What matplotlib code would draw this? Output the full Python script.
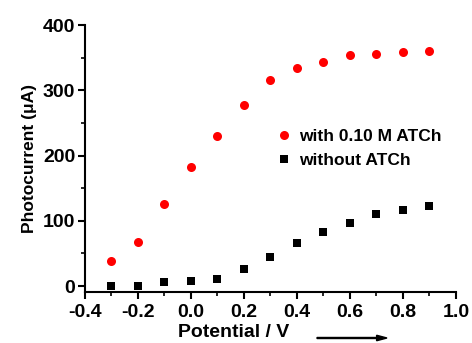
import numpy as np
import matplotlib.pyplot as plt
from matplotlib.ticker import MultipleLocator
from matplotlib.patches import FancyArrow

plt.rcParams['font.family'] = ['Liberation Sans', 'DejaVu Sans']
plt.rcParams['font.weight'] = 'bold'

# potential (V)
potential = [-0.3, -0.2, -0.1, 0.0, 0.1, 0.2, 0.3, 0.4, 0.5, 0.6, 0.7, 0.8, 0.9]
# photocurrent (uA)
with_atch = [39, 67, 125, 183, 230, 277, 315, 334, 343, 354, 356, 359, 360]
without_atch = [0, 0, 6, 8, 11, 26, 45, 66, 83, 97, 111, 117, 123]

fig = plt.figure(figsize=(4.72, 3.43), dpi=100)
ax = fig.add_axes([0.18, 0.149, 0.786, 0.778])

ax.plot(potential, with_atch, 'o', color='#ff0000', markersize=6.5, markeredgewidth=0,
        label='with 0.10 M ATCh')
ax.plot(potential, without_atch, 's', color='black', markersize=6, markeredgewidth=0,
        label='without ATCh')

ax.set_xlim(-0.4, 1.0)
ax.set_ylim(-9, 400)
ax.xaxis.set_major_locator(MultipleLocator(0.2))
ax.xaxis.set_minor_locator(MultipleLocator(0.1))
ax.yaxis.set_major_locator(MultipleLocator(100))
ax.yaxis.set_minor_locator(MultipleLocator(50))
ax.xaxis.set_major_formatter(plt.FuncFormatter(lambda v, p: f"{v:.1f}"))

for s in ['top', 'right']:
    ax.spines[s].set_visible(False)
for s in ['left', 'bottom']:
    ax.spines[s].set_linewidth(1.5)
ax.tick_params(which='major', direction='out', length=5, width=1.5, labelsize=14)
ax.tick_params(axis='x', which='major', pad=4)
ax.tick_params(axis='y', which='major', pad=2)
ax.tick_params(which='minor', direction='out', length=3, width=1.2)
for lab in ax.get_xticklabels() + ax.get_yticklabels():
    lab.set_fontweight('bold')

ax.set_ylabel('Photocurrent (\u03bcA)', fontsize=12.5, fontweight='bold', labelpad=4)
ax.set_xlabel('Potential / V', fontsize=14, fontweight='bold')
ax.xaxis.set_label_coords(0.40, -0.122)
ax.xaxis.label.set_va('top')

# arrow after the x label
fig.patches.append(FancyArrow(
    317 / 472, 1 - 338 / 343, 70 / 472, 0, width=0.003, head_width=0.016,
    head_length=0.022, length_includes_head=True, color='black',
    transform=fig.transFigure, figure=fig))

ax.legend(loc='upper left', bbox_to_anchor=(0.47, 0.668), frameon=False,
          handletextpad=0.4, labelspacing=0.5, handlelength=1.0,
          prop={'weight': 'bold', 'size': 12.5})

fig.savefig('out.png', dpi=100)
